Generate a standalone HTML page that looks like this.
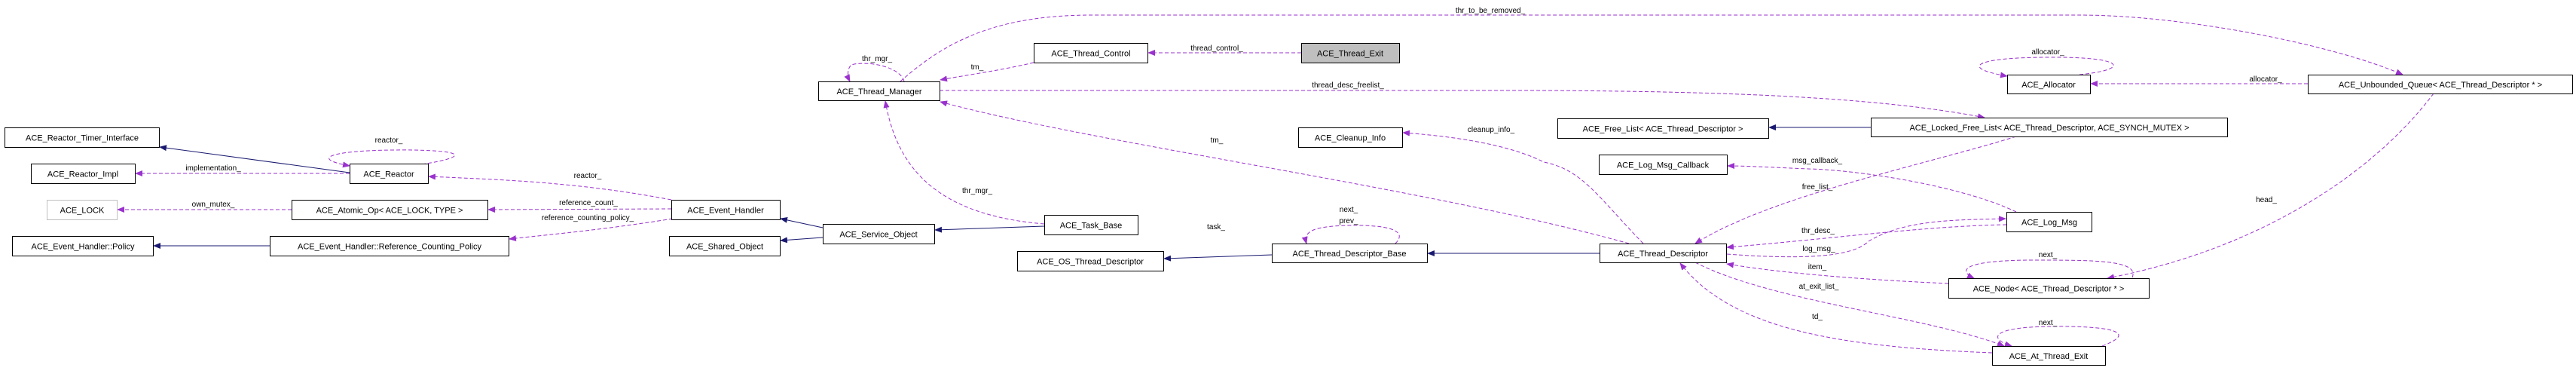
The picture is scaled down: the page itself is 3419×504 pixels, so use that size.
<!DOCTYPE html>
<html><head><meta charset="utf-8"><style>
html,body{margin:0;padding:0;background:#fff;}
svg{display:block;}
text{font-family:"Liberation Sans",sans-serif;}
.n{font-size:11px;}
.l{font-size:10px;}
.b{fill:#fff;stroke:#000;stroke-width:1;}
.g{fill:#fff;stroke:#bfbfbf;stroke-width:1;}
.s{fill:none;stroke:#191970;stroke-width:1;}
.d{fill:none;stroke:#9a32cd;stroke-width:1;stroke-dasharray:5,3;}
</style></head><body>
<svg width="3419" height="504" viewBox="0 0 3419 504" xmlns="http://www.w3.org/2000/svg">
<defs>
<marker id="an" markerWidth="10" markerHeight="8" refX="9" refY="4" orient="auto" markerUnits="userSpaceOnUse"><path d="M0,0 L10,4 L0,8 z" fill="#191970"/></marker>
<marker id="ap" markerWidth="10" markerHeight="8" refX="9" refY="4" orient="auto" markerUnits="userSpaceOnUse"><path d="M0,0 L10,4 L0,8 z" fill="#9a32cd"/></marker>
</defs>

<path class="s" marker-end="url(#an)" d="M464,229 L212,195"/>
<path class="s" marker-end="url(#an)" d="M358,326 L204,326"/>
<path class="s" marker-end="url(#an)" d="M1092,302 L1036,290"/>
<path class="s" marker-end="url(#an)" d="M1092,315 L1036,319"/>
<path class="s" marker-end="url(#an)" d="M1386,300 L1241,305"/>
<path class="s" marker-end="url(#an)" d="M1688,338 L1545,343"/>
<path class="s" marker-end="url(#an)" d="M2123,336 L1895,336"/>
<path class="s" marker-end="url(#an)" d="M2483,169 L2348,169"/>

<path class="d" marker-end="url(#ap)" d="M464,230 L180,230"/>
<path class="d" marker-end="url(#ap)" d="M560,218 C640,205 600,198 520,199 C440,200 410,210 464,220"/>
<path class="d" marker-end="url(#ap)" d="M891,265 C760,240 650,238 569,234"/>
<path class="d" marker-end="url(#ap)" d="M387,278 L156,278"/>
<path class="d" marker-end="url(#ap)" d="M891,277 L648,278"/>
<path class="d" marker-end="url(#ap)" d="M893,290 C800,305 720,312 676,317"/>
<path class="d" marker-end="url(#ap)" d="M1386,297 C1240,285 1190,220 1175,134"/>
<path class="d" marker-end="url(#ap)" d="M1200,108 C1195,88 1150,80 1130,86 C1125,90 1124,100 1128,108"/>
<path class="d" marker-end="url(#ap)" d="M1372,83 C1330,93 1280,100 1248,106"/>
<path class="d" marker-end="url(#ap)" d="M1727,70 L1524,70"/>
<path class="d" marker-end="url(#ap)" d="M1195,108 C1260,50 1330,20 1450,20 L2760,20 C2900,20 3100,60 3189,99"/>
<path class="d" marker-end="url(#ap)" d="M1247,120 L2000,120 C2300,120 2500,130 2634,156"/>
<path class="d" marker-end="url(#ap)" d="M2162,323 C1900,250 1450,190 1248,135"/>
<path class="d" marker-end="url(#ap)" d="M2181,323 C2120,260 2100,225 2049,215 C2000,190 1920,180 1862,176"/>
<path class="d" marker-end="url(#ap)" d="M2676,181 C2550,220 2350,260 2250,323"/>
<path class="d" marker-end="url(#ap)" d="M2676,281 C2600,245 2460,225 2400,224 C2350,222 2320,220 2293,220"/>
<path class="d" marker-end="url(#ap)" d="M2663,298 C2550,300 2420,318 2292,328"/>
<path class="d" marker-end="url(#ap)" d="M2292,337 C2400,345 2460,340 2480,320 C2530,290 2600,292 2662,290"/>
<path class="d" marker-end="url(#ap)" d="M2586,376 C2450,370 2350,360 2292,350"/>
<path class="d" marker-end="url(#ap)" d="M2250,348 C2350,400 2560,420 2660,459"/>
<path class="d" marker-end="url(#ap)" d="M2644,468 C2450,460 2300,440 2230,349"/>
<path class="d" marker-end="url(#ap)" d="M3063,111 L2775,111"/>
<path class="d" marker-end="url(#ap)" d="M2760,99 C2830,92 2820,75 2720,76 C2620,76 2600,90 2664,101"/>
<path class="d" marker-end="url(#ap)" d="M3230,124 C3150,230 3000,330 2797,369"/>
<path class="d" marker-end="url(#ap)" d="M1852,323 C1870,305 1840,298 1790,299 C1740,300 1730,308 1734,323"/>
<path class="d" marker-end="url(#ap)" d="M2830,368 C2840,345 2780,345 2700,345 C2600,345 2600,360 2620,369"/>
<path class="d" marker-end="url(#ap)" d="M2790,459 C2840,440 2800,432 2720,433 C2640,434 2640,450 2670,459"/>

<g class="l" text-anchor="middle">
<text x="516" y="189">reactor_</text>
<text x="283" y="226">implementation_</text>
<text x="283" y="274">own_mutex_</text>
<text x="780" y="236">reactor_</text>
<text x="781" y="272">reference_count_</text>
<text x="780" y="292">reference_counting_policy_</text>
<text x="1297" y="256">thr_mgr_</text>
<text x="1164" y="81">thr_mgr_</text>
<text x="1297" y="92">tm_</text>
<text x="1615" y="67">thread_control_</text>
<text x="1978" y="17">thr_to_be_removed_</text>
<text x="1789" y="116">thread_desc_freelist_</text>
<text x="1615" y="189">tm_</text>
<text x="1979" y="175">cleanup_info_</text>
<text x="1614" y="304">task_</text>
<text x="1790" y="281">next_</text>
<text x="1790" y="296">prev_</text>
<text x="2412" y="251">free_list_</text>
<text x="2412" y="216">msg_callback_</text>
<text x="2413" y="309">thr_desc_</text>
<text x="2414" y="333">log_msg_</text>
<text x="2412" y="357">item_</text>
<text x="2414" y="383">at_exit_list_</text>
<text x="2412" y="423">td_</text>
<text x="2718" y="341">next_</text>
<text x="2718" y="431">next_</text>
<text x="2718" y="72">allocator_</text>
<text x="3007" y="108">allocator_</text>
<text x="3008" y="268">head_</text>
</g>

<g class="n" text-anchor="middle">
<rect class="b" x="6.5" y="169.5" width="205" height="26"/><text x="109" y="186.5">ACE_Reactor_Timer_Interface</text>
<rect class="b" x="41.5" y="217.5" width="138" height="26"/><text x="110" y="234.5">ACE_Reactor_Impl</text>
<rect class="b" x="464.5" y="217.5" width="104" height="26"/><text x="516" y="234.5">ACE_Reactor</text>
<rect class="g" x="62.5" y="265.5" width="93" height="26"/><text x="109" y="282.5">ACE_LOCK</text>
<rect class="b" x="387.5" y="265.5" width="260" height="26"/><text x="517" y="282.5">ACE_Atomic_Op&lt; ACE_LOCK, TYPE &gt;</text>
<rect class="b" x="16.5" y="313.5" width="187" height="26"/><text x="110" y="330.5">ACE_Event_Handler::Policy</text>
<rect class="b" x="358.5" y="313.5" width="317" height="26"/><text x="517" y="330.5">ACE_Event_Handler::Reference_Counting_Policy</text>
<rect class="b" x="891.5" y="265.5" width="144" height="26"/><text x="963" y="282.5">ACE_Event_Handler</text>
<rect class="b" x="888.5" y="313.5" width="147" height="26"/><text x="962" y="330.5">ACE_Shared_Object</text>
<rect class="b" x="1092.5" y="297.5" width="148" height="26"/><text x="1166" y="314.5">ACE_Service_Object</text>
<rect class="b" x="1386.5" y="285.5" width="124" height="26"/><text x="1448" y="302.5">ACE_Task_Base</text>
<rect class="b" x="1350.5" y="333.5" width="194" height="26"/><text x="1447" y="350.5">ACE_OS_Thread_Descriptor</text>
<rect class="b" x="1086.5" y="108.5" width="161" height="25"/><text x="1167" y="125">ACE_Thread_Manager</text>
<rect class="b" x="1372.5" y="57.5" width="151" height="26"/><text x="1448" y="74.5">ACE_Thread_Control</text>
<rect x="1727.5" y="57.5" width="130" height="26" fill="#bfbfbf" stroke="#000"/><text x="1792" y="74.5">ACE_Thread_Exit</text>
<rect class="b" x="1723.5" y="169.5" width="138" height="26"/><text x="1792" y="186.5">ACE_Cleanup_Info</text>
<rect class="b" x="2067.5" y="157.5" width="280" height="26"/><text x="2207" y="174.5">ACE_Free_List&lt; ACE_Thread_Descriptor &gt;</text>
<rect class="b" x="2122.5" y="205.5" width="170" height="26"/><text x="2207" y="222.5">ACE_Log_Msg_Callback</text>
<rect class="b" x="1688.5" y="323.5" width="206" height="25"/><text x="1791" y="340">ACE_Thread_Descriptor_Base</text>
<rect class="b" x="2123.5" y="323.5" width="168" height="25"/><text x="2207" y="340">ACE_Thread_Descriptor</text>
<rect class="b" x="2483.5" y="156.5" width="473" height="25"/><text x="2720" y="173">ACE_Locked_Free_List&lt; ACE_Thread_Descriptor, ACE_SYNCH_MUTEX &gt;</text>
<rect class="b" x="2663.5" y="281.5" width="113" height="26"/><text x="2720" y="298.5">ACE_Log_Msg</text>
<rect class="b" x="2586.5" y="369.5" width="266" height="26"/><text x="2719" y="386.5">ACE_Node&lt; ACE_Thread_Descriptor * &gt;</text>
<rect class="b" x="2644.5" y="459.5" width="150" height="25"/><text x="2719" y="476">ACE_At_Thread_Exit</text>
<rect class="b" x="2664.5" y="99.5" width="110" height="25"/><text x="2719" y="116">ACE_Allocator</text>
<rect class="b" x="3063.5" y="99.5" width="351" height="25"/><text x="3239" y="116">ACE_Unbounded_Queue&lt; ACE_Thread_Descriptor * &gt;</text>
</g>
</svg>
</body></html>
